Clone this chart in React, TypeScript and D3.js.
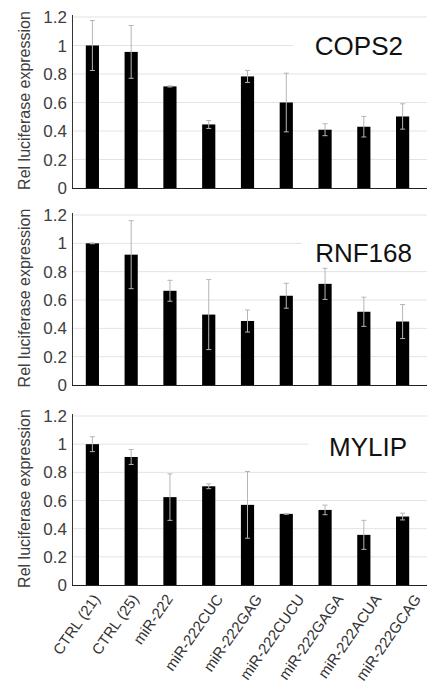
import React, { useEffect, useRef } from "react";
import * as d3 from "d3";

const categories = [
  "CTRL (21)",
  "CTRL (25)",
  "miR-222",
  "miR-222CUC",
  "miR-222GAG",
  "miR-222CUCU",
  "miR-222GAGA",
  "miR-222ACUA",
  "miR-222GCAG",
];

const cops2Mean = [1.0, 0.955, 0.713, 0.446, 0.783, 0.6, 0.409, 0.43, 0.502];
const cops2Err = [0.175, 0.185, 0.004, 0.028, 0.042, 0.206, 0.042, 0.072, 0.089];

const rnf168Mean = [1.0, 0.92, 0.665, 0.497, 0.452, 0.63, 0.714, 0.517, 0.448];
const rnf168Err = [0.003, 0.24, 0.074, 0.247, 0.078, 0.088, 0.11, 0.103, 0.12];

const mylipMean = [1.0, 0.909, 0.624, 0.701, 0.569, 0.505, 0.533, 0.356, 0.486];
const mylipErr = [0.053, 0.053, 0.165, 0.017, 0.237, 0.003, 0.034, 0.103, 0.024];

const yTicks = [0, 0.2, 0.4, 0.6, 0.8, 1, 1.2];
const yTickLabels = ["0", "0.2", "0.4", "0.6", "0.8", "1", "1.2"];

const panelNames = ["COPS2", "RNF168", "MYLIP"];

function App() {
  const width = 427;
  const height = 699;
  const ref = useRef<SVGSVGElement>(null);

  useEffect(() => {
    const svg = d3.select(ref.current);
    svg.selectAll("*").remove();

    const panels = [
      { name: panelNames[0], mean: cops2Mean, err: cops2Err, base: 188, top: 17, labelX: 403, labelY: 55 },
      { name: panelNames[1], mean: rnf168Mean, err: rnf168Err, base: 385, top: 215, labelX: 412, labelY: 262 },
      { name: panelNames[2], mean: mylipMean, err: mylipErr, base: 585, top: 416, labelX: 407, labelY: 456 },
    ];

    const x = d3
      .scaleBand()
      .domain(categories)
      .range([73, 422])
      .padding(0);
    const barW = x.bandwidth() * 0.34;
    const font = "Arial, 'Liberation Sans', sans-serif";

    panels.forEach((p, pi) => {
      const y = d3.scaleLinear().domain([0, 1.2]).range([p.base, p.top]);
      const g = svg.append("g");

      // gridlines
      g.selectAll(".grid")
        .data(yTicks.slice(1))
        .join("line")
        .attr("x1", 73)
        .attr("x2", width)
        .attr("y1", (d) => y(d))
        .attr("y2", (d) => y(d))
        .attr("stroke", "#e3e3e3")
        .attr("stroke-width", 1);

      // white box behind the gene name
      g.append("rect")
        .attr("x", p.labelX - (pi === 2 ? 99 : 110))
        .attr("y", p.labelY - 26)
        .attr("width", width)
        .attr("height", 32)
        .attr("fill", "#fff");

      g.append("text")
        .attr("x", p.labelX)
        .attr("y", p.labelY)
        .attr("text-anchor", "end")
        .attr("font-family", font)
        .attr("font-size", 26)
        .attr("fill", "#111")
        .text(p.name);

      // y tick labels
      g.selectAll(".ytick")
        .data(yTicks)
        .join("text")
        .attr("x", 67)
        .attr("y", (d) => y(d))
        .attr("dy", "0.36em")
        .attr("text-anchor", "end")
        .attr("font-family", font)
        .attr("font-size", 17)
        .attr("fill", "#404040")
        .text((d, i) => yTickLabels[i]);

      // y axis title
      g.append("text")
        .attr("transform", `translate(30,${(p.base + p.top) / 2 - 2}) rotate(-90)`)
        .attr("text-anchor", "middle")
        .attr("font-family", font)
        .attr("font-size", 16)
        .attr("fill", "#404040")
        .text("Rel luciferase expression");

      // bars
      g.selectAll(".bar")
        .data(p.mean)
        .join("rect")
        .attr("x", (d, i) => x(categories[i])! + x.bandwidth() / 2 - barW / 2)
        .attr("width", barW)
        .attr("y", (d) => y(d))
        .attr("height", (d) => y(0) - y(d))
        .attr("fill", "#000");

      // error bars
      const eb = g
        .selectAll(".err")
        .data(p.mean.map((m, i) => ({ m, e: p.err[i], c: categories[i] })))
        .join("g")
        .attr("stroke", "#b5b5b5")
        .attr("stroke-width", 1);
      eb.append("line")
        .attr("x1", (d) => x(d.c)! + x.bandwidth() / 2)
        .attr("x2", (d) => x(d.c)! + x.bandwidth() / 2)
        .attr("y1", (d) => y(d.m - d.e))
        .attr("y2", (d) => y(d.m + d.e));
      eb.append("line")
        .attr("x1", (d) => x(d.c)! + x.bandwidth() / 2 - 2.5)
        .attr("x2", (d) => x(d.c)! + x.bandwidth() / 2 + 2.5)
        .attr("y1", (d) => y(d.m + d.e))
        .attr("y2", (d) => y(d.m + d.e));
      eb.append("line")
        .attr("x1", (d) => x(d.c)! + x.bandwidth() / 2 - 2.5)
        .attr("x2", (d) => x(d.c)! + x.bandwidth() / 2 + 2.5)
        .attr("y1", (d) => y(d.m - d.e))
        .attr("y2", (d) => y(d.m - d.e));

      // axes lines
      g.append("line")
        .attr("x1", 72.5)
        .attr("x2", 72.5)
        .attr("y1", y(1.2) - 2)
        .attr("y2", y(0))
        .attr("stroke", "#333");
      g.append("line")
        .attr("x1", 72)
        .attr("x2", width)
        .attr("y1", y(0) + 0.5)
        .attr("y2", y(0) + 0.5)
        .attr("stroke", "#222")
        .attr("stroke-width", 1.2);

      if (pi === 2) {
        const labs = g
          .selectAll<SVGTextElement, string>(".xlab")
          .data(categories)
          .join("text")
          .attr("text-anchor", "end")
          .attr("dy", "0.35em")
          .attr("font-family", font)
          .attr("font-size", 15)
          .attr("fill", "#333")
          .text((d) => d);
        // longer labels sit a bit further right in the original
        labs.attr("transform", function (d) {
          const len = this.getComputedTextLength();
          const shift = 0.35 * (len - 70);
          return `translate(${x(d)! + x.bandwidth() / 2 + 4 + shift},${y(0) + 11}) rotate(-55)`;
        });
      }
    });
  }, []);

  return (
    <svg
      ref={ref}
      width={width}
      height={height}
      style={{ position: "absolute", left: 0, top: 0, background: "#fff" }}
    />
  );
}

export default App;
